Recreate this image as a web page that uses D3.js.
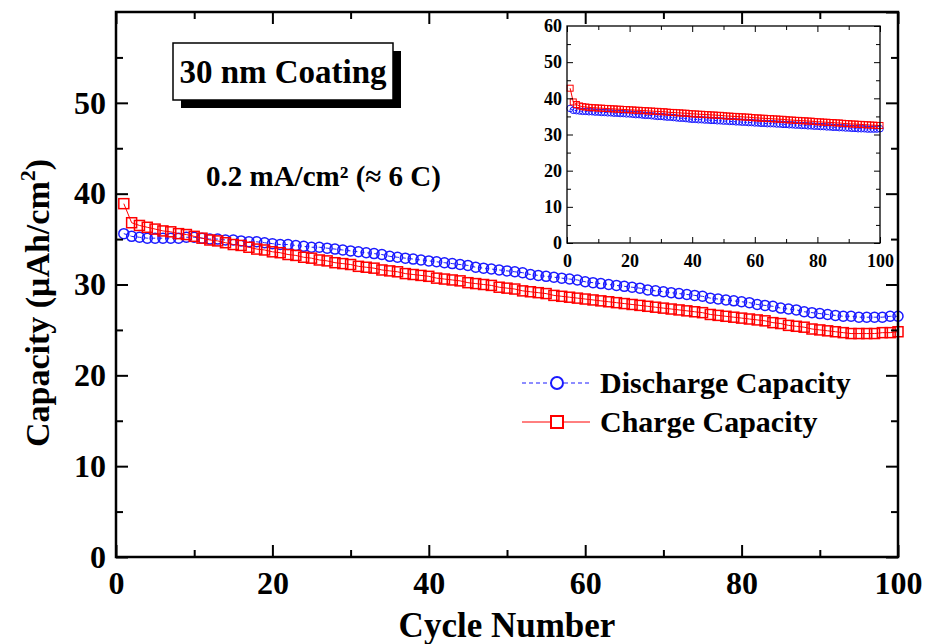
<!DOCTYPE html>
<html>
<head>
<meta charset="utf-8">
<script src="https://cdn.jsdelivr.net/npm/d3@7"></script>
<style>
  body { margin: 0; background: #fff; }
  svg text { font-family: "Liberation Serif", "Times New Roman", serif; font-weight: bold; fill: #000; }
</style>
</head>
<body>
<svg id="chart" width="925" height="644"></svg>
<script>
// cycle numbers (x categories)
var cycles = d3.range(1, 101);

// main plot: capacity per cycle (uAh/cm2)
var discharge = [
  35.6, 35.3, 35.2, 35.1, 35.1, 35.1, 35.1, 35.1, 35.2, 35.2,
  35.1, 35.0, 35.0, 34.9, 34.9, 34.8, 34.7, 34.7, 34.6, 34.5,
  34.4, 34.4, 34.3, 34.2, 34.1, 34.1, 34.0, 33.9, 33.8, 33.7,
  33.6, 33.5, 33.4, 33.3, 33.1, 33.0, 32.9, 32.8, 32.7, 32.6,
  32.5, 32.4, 32.3, 32.2, 32.1, 31.9, 31.8, 31.7, 31.6, 31.5,
  31.4, 31.3, 31.1, 31.0, 30.9, 30.8, 30.7, 30.6, 30.5, 30.3,
  30.2, 30.1, 30.0, 29.9, 29.8, 29.7, 29.6, 29.4, 29.3, 29.2,
  29.1, 29.0, 28.9, 28.8, 28.7, 28.5, 28.4, 28.3, 28.2, 28.1,
  28.0, 27.8, 27.7, 27.6, 27.4, 27.3, 27.2, 27.0, 26.9, 26.8,
  26.7, 26.6, 26.5, 26.5, 26.4, 26.4, 26.4, 26.4, 26.5, 26.5
];
var charge = [
  38.9, 36.8, 36.5, 36.3, 36.1, 35.9, 35.8, 35.6, 35.5, 35.3,
  35.1, 34.9, 34.8, 34.6, 34.4, 34.3, 34.1, 33.9, 33.8, 33.6,
  33.5, 33.3, 33.2, 33.0, 32.9, 32.7, 32.6, 32.4, 32.3, 32.2,
  32.0, 31.9, 31.8, 31.6, 31.5, 31.4, 31.2, 31.1, 31.0, 30.9,
  30.7, 30.6, 30.5, 30.4, 30.2, 30.1, 30.0, 29.9, 29.7, 29.6,
  29.5, 29.3, 29.2, 29.1, 29.0, 28.8, 28.7, 28.6, 28.5, 28.4,
  28.3, 28.2, 28.1, 28.0, 27.9, 27.8, 27.7, 27.6, 27.5, 27.4,
  27.3, 27.2, 27.1, 27.0, 26.9, 26.7, 26.6, 26.5, 26.4, 26.3,
  26.2, 26.1, 26.0, 25.8, 25.7, 25.5, 25.4, 25.3, 25.1, 25.0,
  24.9, 24.8, 24.7, 24.6, 24.6, 24.6, 24.6, 24.7, 24.7, 24.8
];

// inset plot values
var insetDischarge = [
  37.2, 36.7, 36.6, 36.5, 36.4, 36.4, 36.3, 36.3, 36.2, 36.2,
  36.1, 36.1, 36.0, 36.0, 35.9, 35.9, 35.8, 35.8, 35.7, 35.7,
  35.6, 35.5, 35.5, 35.4, 35.3, 35.3, 35.2, 35.1, 35.0, 35.0,
  34.9, 34.8, 34.8, 34.7, 34.6, 34.5, 34.5, 34.4, 34.3, 34.2,
  34.2, 34.1, 34.1, 34.0, 34.0, 33.9, 33.9, 33.8, 33.8, 33.7,
  33.7, 33.6, 33.6, 33.5, 33.5, 33.4, 33.4, 33.3, 33.3, 33.2,
  33.2, 33.1, 33.1, 33.0, 33.0, 33.0, 32.9, 32.9, 32.8, 32.8,
  32.7, 32.7, 32.6, 32.6, 32.5, 32.5, 32.4, 32.4, 32.3, 32.3,
  32.2, 32.2, 32.1, 32.1, 32.0, 32.0, 31.9, 31.9, 31.8, 31.8,
  31.7, 31.7, 31.6, 31.6, 31.6, 31.5, 31.5, 31.5, 31.5, 31.6
];
var insetCharge = [
  42.8, 39.0, 38.3, 37.9, 37.7, 37.6, 37.5, 37.4, 37.4, 37.3,
  37.3, 37.2, 37.2, 37.1, 37.1, 37.0, 37.0, 36.9, 36.9, 36.8,
  36.8, 36.7, 36.7, 36.6, 36.6, 36.5, 36.5, 36.4, 36.4, 36.3,
  36.3, 36.2, 36.1, 36.1, 36.0, 36.0, 35.9, 35.9, 35.8, 35.7,
  35.7, 35.6, 35.6, 35.5, 35.5, 35.4, 35.4, 35.3, 35.3, 35.2,
  35.1, 35.1, 35.0, 35.0, 34.9, 34.9, 34.8, 34.8, 34.7, 34.6,
  34.6, 34.5, 34.5, 34.4, 34.4, 34.3, 34.3, 34.2, 34.2, 34.1,
  34.0, 34.0, 33.9, 33.9, 33.8, 33.8, 33.7, 33.7, 33.6, 33.5,
  33.5, 33.4, 33.4, 33.3, 33.3, 33.2, 33.2, 33.1, 33.0, 33.0,
  32.9, 32.9, 32.8, 32.8, 32.7, 32.7, 32.6, 32.6, 32.5, 32.5
];

// tick values
var xTicks = [0, 20, 40, 60, 80, 100];
var xMinor = [10, 30, 50, 70, 90];
var yTicks = [0, 10, 20, 30, 40, 50];
var yMinor = [5, 15, 25, 35, 45, 55];
var insetYTicks = [0, 10, 20, 30, 40, 50, 60];

var blue = "#1a1aff", red = "#ff0000";

var svg = d3.select("#chart");

// ---- main plot ----
var m = { left: 116, right: 898, top: 12, bottom: 557 };
var x = d3.scaleLinear().domain([0, 100]).range([m.left, m.right]);
var y = d3.scaleLinear().domain([0, 60]).range([m.bottom, m.top]);

function drawAxes(g, x, y, o) {
  // labelled sides
  g.append("g")
    .attr("transform", "translate(0," + y.range()[0] + ")")
    .call(d3.axisBottom(x).tickValues(o.xt).tickSize(-o.major).tickPadding(o.xpad).tickFormat(d3.format("d")))
    .call(function(a) { a.selectAll("text").style("font-size", o.font + "px"); });
  g.append("g")
    .attr("transform", "translate(" + x.range()[0] + ",0)")
    .call(d3.axisLeft(y).tickValues(o.yt).tickSize(-o.major).tickPadding(o.ypad).tickFormat(d3.format("d")))
    .call(function(a) { a.selectAll("text").style("font-size", o.font + "px"); });
  // minor + mirrored ticks
  g.append("g")
    .attr("transform", "translate(0," + y.range()[0] + ")")
    .call(d3.axisBottom(x).tickValues(o.xm).tickSize(-o.minor).tickFormat(""));
  g.append("g")
    .attr("transform", "translate(" + x.range()[0] + ",0)")
    .call(d3.axisLeft(y).tickValues(o.ym).tickSize(-o.minor).tickFormat(""));
  g.append("g")
    .attr("transform", "translate(0," + y.range()[1] + ")")
    .call(d3.axisTop(x).tickValues(o.xt).tickSize(-o.major).tickFormat(""));
  g.append("g")
    .attr("transform", "translate(0," + y.range()[1] + ")")
    .call(d3.axisTop(x).tickValues(o.xm).tickSize(-o.minor).tickFormat(""));
  g.append("g")
    .attr("transform", "translate(" + x.range()[1] + ",0)")
    .call(d3.axisRight(y).tickValues(o.yt.concat([60])).tickSize(-o.major).tickFormat(""));
  g.append("g")
    .attr("transform", "translate(" + x.range()[1] + ",0)")
    .call(d3.axisRight(y).tickValues(o.ym).tickSize(-o.minor).tickFormat(""));
  g.selectAll(".domain").remove();
  g.selectAll(".tick line").attr("stroke", "#000").attr("stroke-width", o.tw);
  // frame
  g.append("rect")
    .attr("x", x.range()[0]).attr("y", y.range()[1])
    .attr("width", x.range()[1] - x.range()[0])
    .attr("height", y.range()[0] - y.range()[1])
    .attr("fill", "none").attr("stroke", "#000").attr("stroke-width", o.fw);
}

function drawSeries(g, x, y, vals, color, dash, shape, size, sw) {
  var line = d3.line()
    .x(function(d, i) { return x(cycles[i]); })
    .y(function(d) { return y(d); });
  g.append("path")
    .datum(vals)
    .attr("d", line)
    .attr("fill", "none")
    .attr("stroke", color)
    .attr("stroke-width", 1)
    .attr("stroke-dasharray", dash);
  if (shape === "circle") {
    g.append("g").selectAll("circle")
      .data(vals).enter().append("circle")
      .attr("cx", function(d, i) { return x(cycles[i]); })
      .attr("cy", function(d) { return y(d); })
      .attr("r", size)
      .attr("fill", "none").attr("stroke", color).attr("stroke-width", sw);
  } else {
    g.append("g").selectAll("rect")
      .data(vals).enter().append("rect")
      .attr("x", function(d, i) { return x(cycles[i]) - size / 2; })
      .attr("y", function(d) { return y(d) - size / 2; })
      .attr("width", size).attr("height", size)
      .attr("fill", "none").attr("stroke", color).attr("stroke-width", sw);
  }
}

var main = svg.append("g");
drawSeries(main, x, y, discharge, blue, "4,3", "circle", 5, 1.5);
drawSeries(main, x, y, charge, red, null, "square", 10, 1.5);
drawAxes(main, x, y, { xt: xTicks, xm: xMinor, yt: yTicks, ym: yMinor, major: 12, minor: 7, xpad: 14, ypad: 10, font: 32, tw: 2, fw: 2.5 });

// axis titles
svg.append("text")
  .attr("x", (m.left + m.right) / 2).attr("y", 637)
  .attr("text-anchor", "middle")
  .style("font-size", "35px")
  .text("Cycle Number");

var ylab = svg.append("text")
  .attr("transform", "translate(49,303) rotate(-90)")
  .attr("text-anchor", "middle")
  .style("font-size", "34px");
ylab.append("tspan").text("Capacity (\u03bcAh/cm");
ylab.append("tspan").attr("dy", -14).style("font-size", "22px").text("2");
ylab.append("tspan").attr("dy", 14).text(")");

// title box with shadow
svg.append("rect").attr("x", 181).attr("y", 51).attr("width", 220).attr("height", 57).attr("fill", "#000");
svg.append("rect").attr("x", 173).attr("y", 43).attr("width", 220).attr("height", 57)
  .attr("fill", "#fff").attr("stroke", "#000").attr("stroke-width", 1.5);
svg.append("text")
  .attr("x", 283).attr("y", 83)
  .attr("text-anchor", "middle")
  .style("font-size", "33px")
  .text("30 nm Coating");

svg.append("text")
  .attr("x", 206).attr("y", 186)
  .style("font-size", "29px")
  .text("0.2 mA/cm\u00b2 (\u2248 6 C)");

// legend
var legend = [
  { name: "Discharge Capacity", color: blue, dash: "4,3", shape: "circle", y: 383 },
  { name: "Charge Capacity", color: red, dash: null, shape: "square", y: 422 }
];
legend.forEach(function(l) {
  svg.append("line")
    .attr("x1", 522).attr("x2", 590).attr("y1", l.y).attr("y2", l.y)
    .attr("stroke", l.color).attr("stroke-width", 1).attr("stroke-dasharray", l.dash);
  if (l.shape === "circle") {
    svg.append("circle").attr("cx", 557).attr("cy", l.y).attr("r", 6)
      .attr("fill", "#fff").attr("stroke", l.color).attr("stroke-width", 2);
  } else {
    svg.append("rect").attr("x", 551).attr("y", l.y - 6).attr("width", 12).attr("height", 12)
      .attr("fill", "#fff").attr("stroke", l.color).attr("stroke-width", 2);
  }
  svg.append("text")
    .attr("x", 600).attr("y", l.y + 10)
    .style("font-size", "30px")
    .text(l.name);
});

// ---- inset ----
var ix = d3.scaleLinear().domain([0, 100]).range([567, 880]);
var iy = d3.scaleLinear().domain([0, 60]).range([243, 26]);
var inset = svg.append("g");
inset.append("rect")
  .attr("x", 567).attr("y", 26).attr("width", 313).attr("height", 217)
  .attr("fill", "#fff");
drawSeries(inset, ix, iy, insetDischarge, blue, "3,2", "circle", 3.3, 1);
drawSeries(inset, ix, iy, insetCharge, red, null, "square", 6, 1);
drawAxes(inset, ix, iy, { xt: xTicks, xm: xMinor, yt: insetYTicks.slice(0, 6), ym: yMinor, major: 6, minor: 4, xpad: 11, ypad: 5, font: 18, tw: 1, fw: 1.3 });
// 60 label on inset y axis (top of frame)
inset.append("text")
  .attr("x", 562).attr("y", iy(60))
  .attr("dy", "0.32em")
  .attr("text-anchor", "end")
  .style("font-size", "18px")
  .text(insetYTicks[6]);
</script>
</body>
</html>
